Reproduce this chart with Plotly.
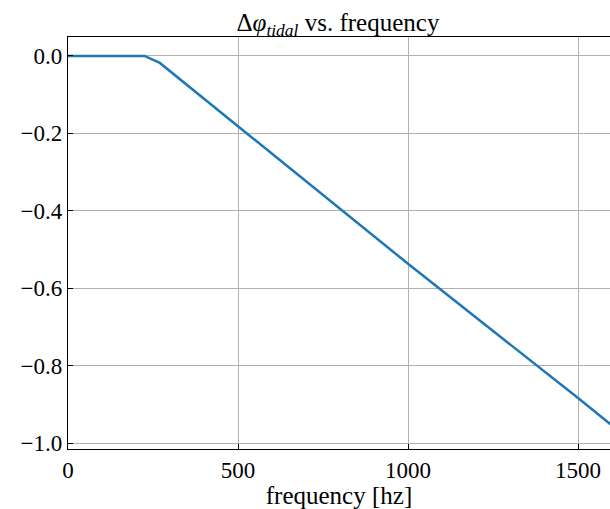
import plotly.graph_objects as go

freq = [0, 225, 270, 500, 1000, 1500, 1650]
dphi = [0.0, 0.0, -0.018, -0.181, -0.537, -0.884, -0.990]

x_ticks = [0, 500, 1000, 1500]
y_ticks = [0.0, -0.2, -0.4, -0.6, -0.8, -1.0]
y_labels = ["0.0", "−0.2", "−0.4", "−0.6", "−0.8", "−1.0"]

FONT = "Liberation Serif, DejaVu Serif, serif"

fig = go.Figure()
fig.add_trace(go.Scatter(x=freq, y=dphi, mode="lines",
                         line=dict(color="#1f77b4", width=2.5),
                         showlegend=False))

fig.update_layout(
    width=610, height=509,
    margin=dict(l=68, r=0, t=37, b=60),
    paper_bgcolor="white", plot_bgcolor="white",
    font=dict(family=FONT, size=23, color="black"),
    title=dict(text="Δ<i>φ</i><sub><i>tidal</i></sub> vs. frequency",
               x=0.554, xanchor="center", y=0.957, yanchor="middle",
               font=dict(family=FONT, size=25)),
)
fig.update_xaxes(
    range=[0, 1594], tickvals=x_ticks, ticktext=[str(v) for v in x_ticks],
    showgrid=True, gridcolor="#b0b0b0", gridwidth=0.8,
    showline=True, linecolor="black", linewidth=1.2, mirror=True,
    ticks="inside", ticklen=5, tickwidth=1.2, tickcolor="black",
    zeroline=False,
    title=dict(text="frequency [hz]", standoff=4, font=dict(family=FONT, size=25)),
)
fig.update_yaxes(
    range=[-1.0155, 0.049], tickvals=y_ticks, ticktext=y_labels,
    showgrid=True, gridcolor="#b0b0b0", gridwidth=0.8,
    showline=True, linecolor="black", linewidth=1.2, mirror=True,
    ticks="inside", ticklen=5, tickwidth=1.2, tickcolor="black",
    zeroline=False,
)
fig.write_html(
    "out.html",
    config={"displayModeBar": False},
    post_script="document.body.style.margin='0';document.body.style.overflow='hidden';",
)
